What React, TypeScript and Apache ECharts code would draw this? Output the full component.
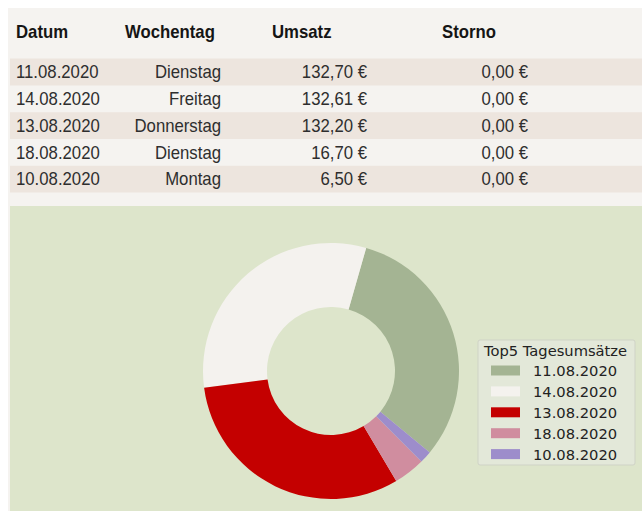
import React, { useEffect, useRef } from "react";
import * as echarts from "echarts";

const headers = ["Datum", "Wochentag", "Umsatz", "Storno"];
const dates = ["11.08.2020", "14.08.2020", "13.08.2020", "18.08.2020", "10.08.2020"];
const weekdays = ["Dienstag", "Freitag", "Donnerstag", "Dienstag", "Montag"];
const umsatz = [132.7, 132.61, 132.2, 16.7, 6.5];
const storno = [0, 0, 0, 0, 0];
const sliceColors = ["#a4b493", "#f4f2ee", "#c40000", "#d08d9f", "#9d8dcb"];
const legendTitle = "Top5 Tagesumsätze";

const euro = (v: number) => v.toFixed(2).replace(".", ",") + " €";

export default function App() {
  const ref = useRef<HTMLDivElement>(null);
  useEffect(() => {
    if (!ref.current) return;
    const chart = echarts.init(ref.current, null, { renderer: "svg" });
    const font = "Liberation Sans, Arial, sans-serif";
    const rowY0 = 72;
    const rowStep = 26.8;
    const sx = 0.93;
    const graphics: any[] = [
      { type: "rect", z: -10, shape: { x: 8, y: 8, width: 634, height: 503 }, style: { fill: "#f5f3f0" } },
      { type: "rect", z: -9, shape: { x: 10, y: 206, width: 632, height: 305 }, style: { fill: "#dde5cb" } },
      { type: "rect", z: -8, shape: { x: 478, y: 340, width: 157, height: 125, r: 2 }, style: { fill: "#e3e8d9", stroke: "#cfd3c6", lineWidth: 1 } },
      { type: "text", x: 484, y: 350, style: { text: legendTitle, font: "14.7px DejaVu Sans", fill: "#222", textAlign: "left", textVerticalAlign: "middle" } },
    ];
    const headerX = [16, 125, 272, 442];
    headers.forEach((h, i) => {
      graphics.push({ type: "text", x: headerX[i], y: 32, scaleX: sx, style: { text: h, font: `bold 18px ${font}`, fill: "#151515", textAlign: "left", textVerticalAlign: "middle" } });
    });
    dates.forEach((d, i) => {
      const y = rowY0 + i * rowStep;
      if (i % 2 === 0) {
        graphics.push({ type: "rect", z: -7, shape: { x: 10, y: y - 13.4, width: 632, height: 26.8 }, style: { fill: "#ede5de" } });
      }
      const st = (text: string, x: number, align: string) => ({
        type: "text", x, y, scaleX: sx,
        style: { text, font: `18px ${font}`, fill: "#2e2e2e", textAlign: align, textVerticalAlign: "middle" },
      });
      graphics.push(st(d, 16, "left"));
      graphics.push(st(weekdays[i], 221, "right"));
      graphics.push(st(euro(umsatz[i]), 367, "right"));
      graphics.push(st(euro(storno[i]), 528, "right"));
    });

    chart.setOption({
      animation: false,
      backgroundColor: "#ffffff",
      graphic: graphics,
      legend: {
        orient: "vertical",
        left: 491,
        top: 363,
        padding: 0,
        itemWidth: 29,
        itemHeight: 10,
        itemGap: 5.9,
        icon: "rect",
        selectedMode: false,
        data: dates,
        textStyle: { fontFamily: "DejaVu Sans", fontSize: 14.7, color: "#222", padding: [0, 0, 0, 8], lineHeight: 14.7 },
      },
      series: [
        {
          type: "pie",
          center: [331, 371],
          radius: [64, 128],
          startAngle: -39.5,
          clockwise: false,
          label: { show: false },
          labelLine: { show: false },
          emphasis: { disabled: true },
          itemStyle: { borderWidth: 0 },
          data: dates.map((d, i) => ({ name: d, value: umsatz[i], itemStyle: { color: sliceColors[i] } })),
        },
      ],
    });
    return () => chart.dispose();
  }, []);
  return <div ref={ref} style={{ position: "absolute", left: 0, top: 0, width: 642, height: 511 }} />;
}
